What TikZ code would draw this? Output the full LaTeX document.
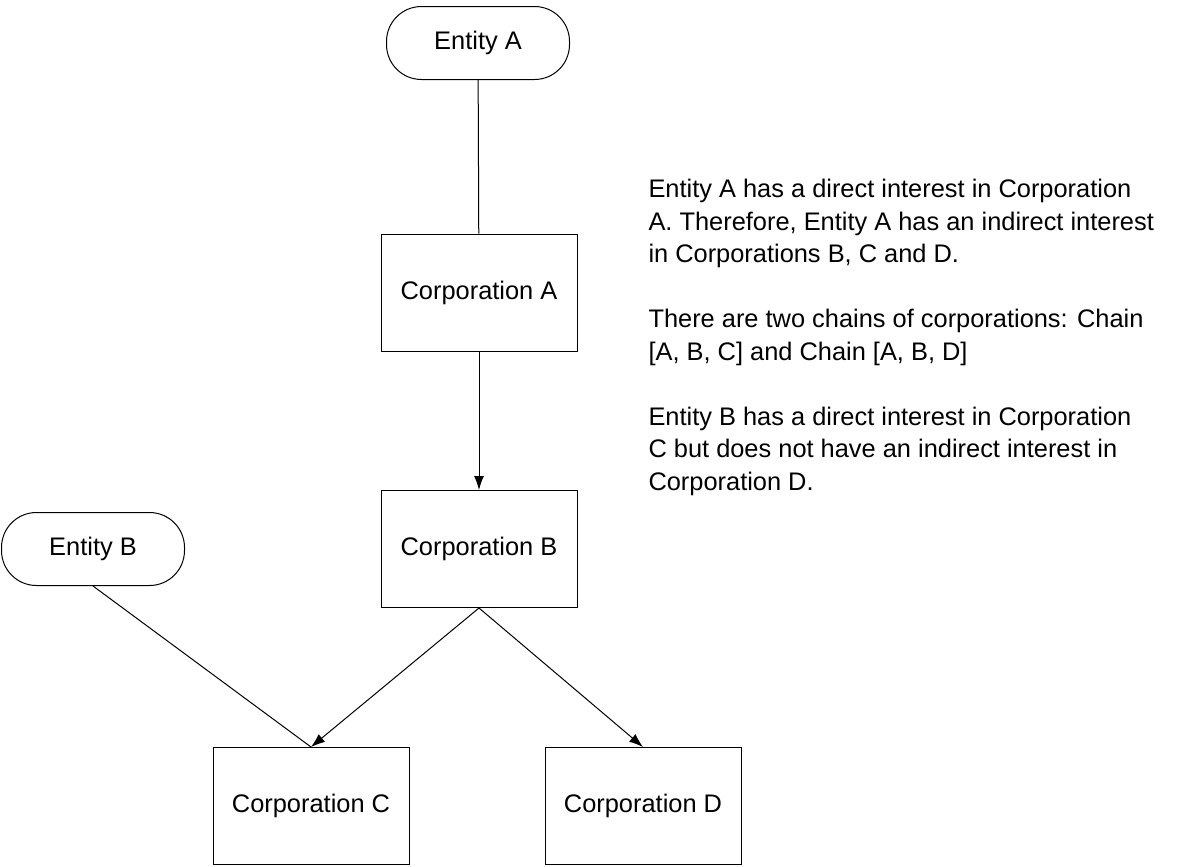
\documentclass[tikz,border=0pt]{standalone}
\usepackage{fontspec}
\setmainfont{Liberation Sans}
\usetikzlibrary{arrows.meta}

\begin{document}
\begin{tikzpicture}[x=0.5pt,y=-0.5pt,line width=0.5pt,
		corp/.style={draw,rectangle,minimum width=98pt,minimum height=58.5pt,inner sep=0pt},
		entity/.style={draw,rectangle,rounded corners=17.5pt,minimum width=91.5pt,minimum height=36.5pt,inner sep=0pt},
		arr/.style={-{Latex[length=7pt,width=5pt]}}]
		\useasboundingbox (0,0) rectangle (1183,867);
		\fontsize{12.7}{16.25}\selectfont
		\node[entity] (entA) at (478,43){Entity A};
		\node[corp] (corpA) at (479,292.5){Corporation A};
		\node[corp] (corpB) at (479,549){Corporation B};
		\node[entity] (entB) at (93,549){Entity B};
		\node[corp] (corpC) at (311,806){Corporation C};
		\node[corp] (corpD) at (643,806){Corporation D};
		\draw (entA) -- (corpA);
		\draw[arr] (corpA) -- (corpB);
		\draw (entB.south) -- (corpC.north);
		\draw[arr] (corpB.south) -- (corpC.north);
		\draw[arr] (corpB.south) -- (corpD.north);
		% notes on the right
		\node[anchor=north west,inner sep=0pt,align=left] (notes) at (648,179){Entity A has a direct interest in Corporation\\
			A. Therefore, Entity A has an indirect interest\\
			in Corporations B, C and D.\\[16.25pt]
			There are two chains of corporations: Chain\\
			{[}A, B, C{]} and Chain {[}A, B, D{]}\\[16.25pt]
			Entity B has a direct interest in Corporation\\
			C but does not have an indirect interest in\\
			Corporation D.};
	\end{tikzpicture}
\end{document}
